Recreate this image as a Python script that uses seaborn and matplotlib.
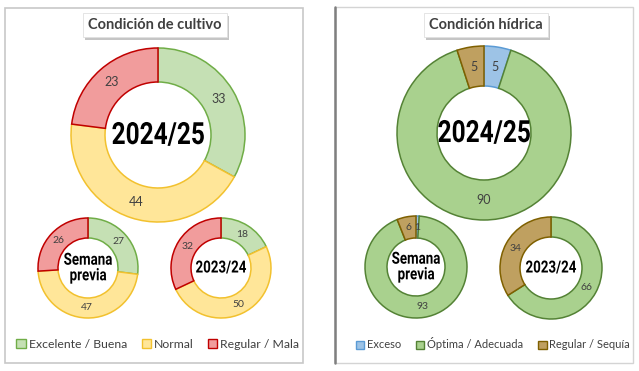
import numpy as np
import matplotlib
matplotlib.use("Agg")
import matplotlib.pyplot as plt
import matplotlib.patches as mpatches
import matplotlib.patheffects as pe
from matplotlib.transforms import Affine2D
import seaborn as sns

# ── Data ──────────────────────────────────────────────────
cultivo_labels = ["Excelente / Buena", "Normal", "Regular / Mala"]
cultivo_actual = [33, 44, 23]
cultivo_previa = [27, 47, 26]
cultivo_anterior = [18, 50, 32]

hidrica_labels = ["Exceso", "Óptima / Adecuada", "Regular / Sequía"]
hidrica_actual = [5, 90, 5]
hidrica_previa = [1, 93, 6]
hidrica_anterior = [0, 66, 34]

# ── Style ─────────────────────────────────────────────────
sns.set_theme(style="white")
plt.rcParams["font.family"] = ["Lato", "DejaVu Sans"]

CULT_FILL = ["#c5e0b4", "#ffe699", "#f19c9c"]
CULT_EDGE = ["#70ad47", "#f2c12e", "#c00000"]
HID_FILL = ["#9dc3e6", "#a9d18e", "#bfa060"]
HID_EDGE = ["#5b9bd5", "#548235", "#7f6000"]
TXT = "#404040"
H = 371


class Squeeze(pe.AbstractPathEffect):
    """Narrow the glyphs horizontally (condensed look) around each line's centre."""
    def __init__(self, sx):
        super().__init__()
        self.sx = sx

    def draw_path(self, renderer, gc, tpath, affine, rgbFace=None):
        v = tpath.vertices
        mid = (v[:, 0].min() + v[:, 0].max()) / 2
        t = Affine2D().translate(-mid, 0).scale(self.sx, 1).translate(mid, 0)
        renderer.draw_path(gc, t.transform_path(tpath), affine, rgbFace)


def donut(ax, vals, cx, cy, r_out, r_in, fills, edges, center_txt, csize, lsize):
    cy = H - cy
    wedges, _, autot = ax.pie(
        vals, startangle=90, counterclock=False, center=(cx, cy), radius=r_out,
        colors=fills, autopct=lambda p: f"{p:.0f}" if p > 0.5 else "",
        pctdistance=(r_out + r_in) / 2 / r_out,
        wedgeprops=dict(width=r_out - r_in, linewidth=1.1),
        textprops=dict(fontsize=lsize, color=TXT))
    for w, e in zip(wedges, edges):
        w.set_edgecolor(e)
    ax.text(cx, cy, center_txt, ha="center", va="center", fontsize=csize,
            fontweight="bold", color="black", linespacing=1.05,
            family="Roboto", path_effects=[Squeeze(0.8)])


fig = plt.figure(figsize=(6.39, 3.71), dpi=100)
ax = fig.add_axes([0, 0, 1, 1])

# left panel
donut(ax, cultivo_actual, 158, 135, 87, 53, CULT_FILL, CULT_EDGE, "2024/25", 22, 9)
donut(ax, cultivo_previa, 88, 268, 50, 30, CULT_FILL, CULT_EDGE, "Semana\nprevia", 12, 7.5)
donut(ax, cultivo_anterior, 221, 268, 50, 30, CULT_FILL, CULT_EDGE, "2023/24", 12, 7.5)

# right panel
donut(ax, hidrica_actual, 484, 133, 87, 47, HID_FILL, HID_EDGE, "2024/25", 22, 9)
donut(ax, hidrica_previa, 416, 267, 51, 29, HID_FILL, HID_EDGE, "Semana\nprevia", 12, 7.5)
donut(ax, hidrica_anterior, 551, 268, 51, 31, HID_FILL, HID_EDGE, "2023/24", 12, 7.5)

ax.set_xlim(0, 639)
ax.set_ylim(0, H)
ax.set_aspect("auto")
ax.axis("off")

# panel frames
ax.add_patch(mpatches.Rectangle((5, H - 363), 298, 355, fill=False,
                                ec="#c8c8c8", lw=1.2))
ax.add_patch(mpatches.Rectangle((335, H - 363), 298, 356, fill=False,
                                ec="#d4d4d4", lw=1.0))
ax.plot([335, 335], [H - 363, H - 7], color="#7f7f7f", lw=1.8)

# titles
for x, title in [(155, "Condición de cultivo"), (486, "Condición hídrica")]:
    t = ax.text(x, H - 25, title, ha="center", va="center", fontsize=10.5,
                fontweight="bold", color=TXT,
                bbox=dict(boxstyle="square,pad=0.35", fc="white", ec="#e0e0e0", lw=0.6))
    t.get_bbox_patch().set_path_effects([
        pe.SimplePatchShadow(offset=(1.5, -2), shadow_rgbFace="#808080", alpha=0.45),
        pe.Normal()])

# legends
def legend(labels, fills, edges, cx, size, spacing):
    handles = [mpatches.Patch(fc=f, ec=e, lw=1.0, label=l)
               for l, f, e in zip(labels, fills, edges)]
    fig.legend(handles=handles, loc="center", ncol=3,
               bbox_to_anchor=(cx / 639, 1 - 344 / H), frameon=False,
               fontsize=size, handlelength=0.75, handleheight=0.75,
               handletextpad=0.25, columnspacing=spacing, labelcolor=TXT)

legend(cultivo_labels, CULT_FILL, CULT_EDGE, 158, 8.8, 1.2)
legend(hidrica_labels, HID_FILL, HID_EDGE, 493, 8, 1.35)

fig.savefig("out.png", dpi=100)
